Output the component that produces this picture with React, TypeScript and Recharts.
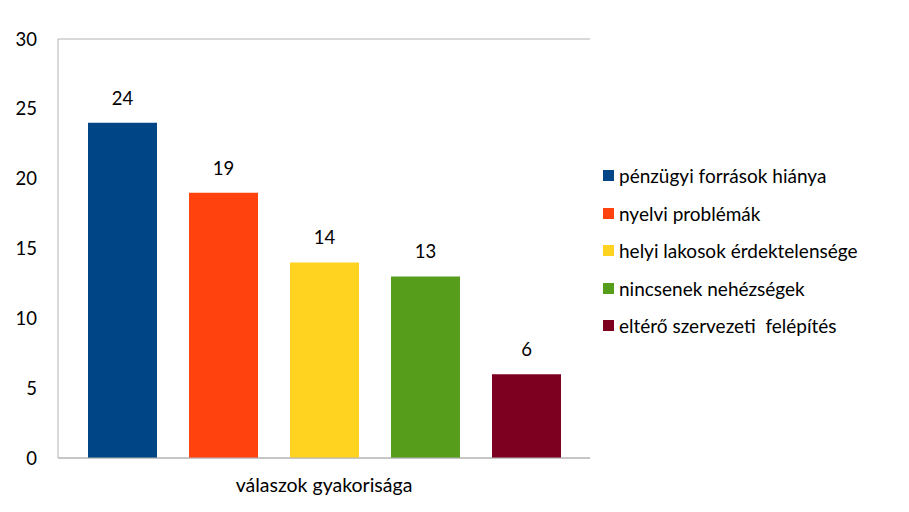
import { BarChart, Bar, XAxis, YAxis, CartesianGrid, LabelList } from "recharts";

const categories = ["válaszok gyakorisága"];
const seriesNames = [
    "pénzügyi források hiánya",
    "nyelvi problémák",
    "helyi lakosok érdektelensége",
    "nincsenek nehézségek",
    "eltérő szervezeti  felépítés",
];
const seriesValues = [24, 19, 14, 13, 6];
const COLORS = ["#004586", "#ff420e", "#ffd320", "#579d1c", "#7e0021"];
const yTicks = [0, 5, 10, 15, 20, 25, 30];

const FONT = "Lato, 'Open Sans', sans-serif";
const GRID = "#b3b3b3";

const data = categories.map((name) => {
    const row: Record<string, string | number> = { name };
    seriesNames.forEach((s, i) => {
        row[`s${i}`] = seriesValues[i];
    });
    return row;
});

// legend sits outside the chart so it doesn't shrink the plot area
function LegendBox() {
    return (
        <div style={{ position: "absolute", left: 603, top: 157, fontFamily: FONT, fontSize: 19, color: "#000" }}>
            {seriesNames.map((s, i) => (
                <div key={s} style={{ display: "flex", alignItems: "center", height: 37.5 }}>
                    <div style={{ width: 11, height: 11, background: COLORS[i], marginRight: 5 }} />
                    <span style={{ whiteSpace: "pre" }}>{s}</span>
                </div>
            ))}
        </div>
    );
}

export default function App() {
    return (
        <div style={{ position: "absolute", left: 0, top: 0, width: 909, height: 512, background: "#fff", fontFamily: FONT }}>
            <BarChart
                width={909}
                height={512}
                data={data}
                margin={{ top: 39, right: 319, left: 0, bottom: 0 }}
                barSize={69}
                barGap={32}
                style={{ fontFamily: FONT }}
            >
                <CartesianGrid stroke={GRID} vertical={false} />
                <XAxis
                    dataKey="name"
                    height={54}
                    tickLine={false}
                    axisLine={{ stroke: GRID }}
                    tickMargin={14}
                    tick={{ fill: "#000", fontSize: 19.5 }}
                />
                <YAxis
                    yAxisId="left"
                    width={58}
                    domain={[0, 30]}
                    ticks={yTicks}
                    tickLine={false}
                    axisLine={{ stroke: GRID }}
                    tickSize={6}
                    tickMargin={15}
                    tick={{ fill: "#000", fontSize: 18.5 }}
                />
                <YAxis
                    yAxisId="right"
                    orientation="right"
                    width={0}
                    domain={[0, 30]}
                    tick={false}
                    tickLine={false}
                    axisLine={{ stroke: GRID }}
                />
                {seriesNames.map((s, i) => (
                    <Bar key={s} yAxisId="left" dataKey={`s${i}`} name={s} fill={COLORS[i]} isAnimationActive={false}>
                        <LabelList dataKey={`s${i}`} position="top" offset={18} fill="#000" fontSize={18.5} />
                    </Bar>
                ))}
            </BarChart>
            <LegendBox />
        </div>
    );
}
